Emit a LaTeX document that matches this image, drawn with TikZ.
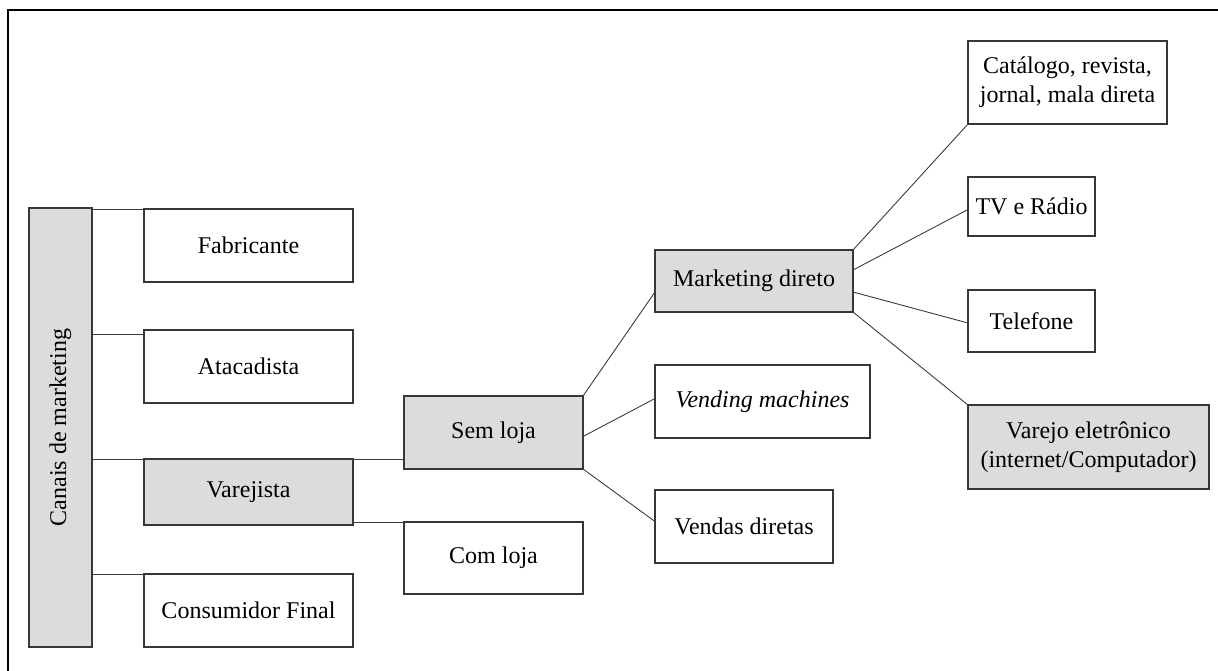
\documentclass[tikz,border=0pt]{standalone}
\usepackage{fontspec}
\setmainfont{Liberation Serif}
\definecolor{panelgray}{RGB}{220,220,220}
\definecolor{edgegray}{RGB}{55,55,55}
\definecolor{wiregray}{RGB}{60,60,60}
\tikzset{
  box/.style={draw=edgegray, line width=0.6pt, fill=white, inner sep=0pt, outer sep=0pt,
    align=center, font=\fontsize{12}{14.5}\selectfont},
  shaded/.style={box, fill=panelgray},
  sz/.style 2 args={minimum width=#1*0.5pt, minimum height=#2*0.5pt},
  link/.style={draw=wiregray, line width=0.45pt},
  frameline/.style={draw=black, line width=0.7pt},
}
\begin{document}
\begin{tikzpicture}[x=0.5pt,y=-0.5pt]
\useasboundingbox (0,0) rectangle (1218,670);

% outer frame (left and top edges)
\coordinate (fbl) at (8,672);
\coordinate (ftl) at (8,10);
\coordinate (ftr) at (1220,10);
\draw[frameline] (fbl) -- (ftl) -- (ftr);

% vertical title bar
\node[shaded, sz={63}{439}] (bar) at (60.5,427.5) {};
\node[rotate=90, font=\fontsize{12}{14.5}\selectfont] (bartxt) at (bar.center) {Canais de marketing};

% first column
\node[box, sz={209}{73}] (fab)  at (248.5,245.5) {Fabricante};
\node[box, sz={209}{73}] (ata)  at (248.5,366.5) {Atacadista};
\node[shaded, sz={209}{66}] (var) at (248.5,492) {Varejista};
\node[box, sz={209}{73}] (cons) at (248.5,610.5) {Consumidor Final};

% second column
\node[shaded, sz={179}{73}] (sem) at (493.5,432.5) {Sem loja};
\node[box, sz={179}{72}] (com) at (493.5,558) {Com loja};

% third column
\node[shaded, sz={198}{62}] (mkt) at (754,281) {Marketing direto};
\node[box, sz={215}{73}] (vend) at (762.5,401.5) {\itshape Vending machines};
\node[box, sz={178}{73}] (vdir) at (744,526.5) {Vendas diretas};

% fourth column
\node[box, sz={199}{83}] (cat) at (1067.5,82.5) {Catálogo, revista,\\jornal, mala direta};
\node[box, sz={127}{59}] (tv)  at (1031.5,206.5) {TV e Rádio};
\node[box, sz={127}{62}] (tel) at (1031.5,321) {Telefone};
\node[shaded, sz={241}{84}] (vel) at (1088.5,447) {Varejo eletrônico\\(internet/Computador)};

% connectors from the title bar
\draw[link] (fab.north west -| bar.east) -- (fab.north west);
\draw[link] ([yshift=-2pt]ata.north west -| bar.east) -- ([yshift=-2pt]ata.north west);
\draw[link] (var.north west -| bar.east) -- (sem.west |- var.north);
\draw[link] (cons.north west -| bar.east) -- (cons.north west);
\draw[link] (com.north west -| var.east) -- (com.north west);

% connectors from "Sem loja"
\draw[link] (sem.north east) -- ([yshift=-5.5pt]mkt.west);
\draw[link] ([yshift=-2pt]sem.east) -- ([yshift=1.5pt]vend.west);
\draw[link] (sem.south east) -- ([yshift=2.5pt]vdir.west);

% connectors from "Marketing direto"
\draw[link] (mkt.north east) -- (cat.south west);
\draw[link] ([yshift=5.5pt]mkt.east) -- ([yshift=-1.5pt]tv.west);
\draw[link] ([yshift=-5.5pt]mkt.east) -- ([yshift=-1pt]tel.west);
\draw[link] (mkt.south east) -- (vel.north west);
\end{tikzpicture}
\end{document}
